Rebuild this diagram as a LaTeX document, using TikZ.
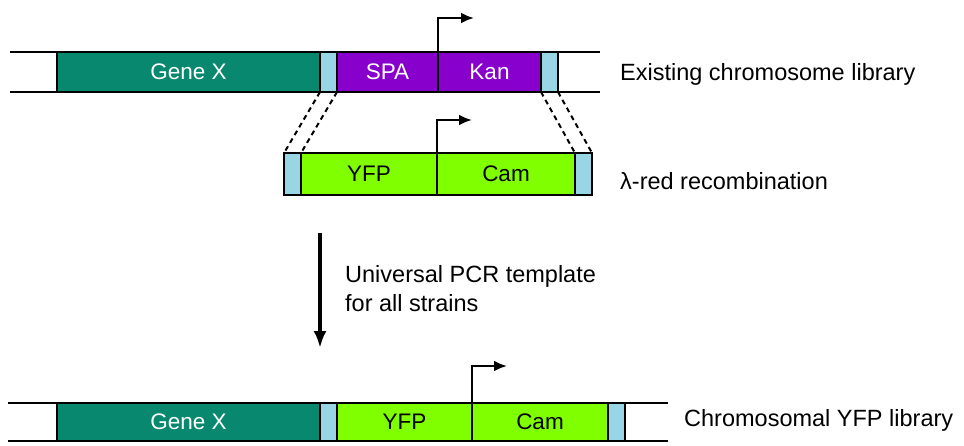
\documentclass[tikz,border=0pt]{standalone}
\usepackage{fontspec}
\setmainfont{Liberation Sans}
\usetikzlibrary{shapes,arrows,arrows.meta}
\usetikzlibrary{positioning}
\usetikzlibrary{calc}

\definecolor{genecol}{RGB}{8,136,110}
\definecolor{spacol}{RGB}{136,0,204}
\definecolor{yfpcol}{RGB}{128,255,0}
\definecolor{flankcol}{RGB}{152,214,230}

\begin{document}
\begin{tikzpicture}[x=1pt,y=-1pt]
 \tikzstyle{seg} = [draw, line width=2.6pt, inner sep=0pt, outer sep=0pt, font=\fontsize{22.5}{27}\selectfont];
 \tikzstyle{flank} = [seg, fill=flankcol, minimum width=17pt];
 \tikzstyle{lbl} = [anchor=west, inner sep=0pt, font=\fontsize{23.5}{29}\selectfont];
 \tikzstyle{dna} = [line width=2.6pt];
 \tikzstyle{prom} = [-{Latex[length=13pt,width=11pt]}, line width=2.6pt];
 \tikzstyle{link} = [dash pattern=on 5pt off 4pt, line width=2pt];

 \useasboundingbox (0,0) rectangle (964,445);

 % existing chromosome
 \draw [dna] (10,52) -- (600,52) (10,92) -- (600,92);
 \node (gene1) [seg, fill=genecol, text=white, minimum width=263pt, minimum height=40pt] at (188.5,72) {Gene X};
 \node (fl1a) [flank, minimum height=40pt] at (328.5,72) {};
 \node (spa) [seg, fill=spacol, text=white, minimum width=101pt, minimum height=40pt] at (387.5,72) {SPA};
 \node (kan) [seg, fill=spacol, text=white, minimum width=103pt, minimum height=40pt] at (489.5,72) {Kan};
 \node (fl1b) [flank, minimum height=40pt] at (549.5,72) {};
 \coordinate (p1) at (474,18);
 \draw [prom] (kan.north west) |- (p1);
 \node (lib1) [lbl] at (620,74) {Existing chromosome library};

 % recombination cassette
 \node (fl2a) [flank, minimum height=42pt] at (292.5,174) {};
 \node (yfp2) [seg, fill=yfpcol, minimum width=136pt, minimum height=42pt] at (369,174) {YFP};
 \node (cam2) [seg, fill=yfpcol, minimum width=138pt, minimum height=42pt] at (506,174) {Cam};
 \node (fl2b) [flank, minimum height=42pt] at (583.5,174) {};
 \coordinate (p2) at (472,120);
 \draw [prom] (cam2.north west) |- (p2);
 \node (lam) [lbl] at (620,181) {λ-red recombination};

 \draw [link] (fl1a.south west) -- (fl2a.north west);
 \draw [link] (fl1a.south east) -- (fl2a.north east);
 \draw [link] (fl1b.south west) -- (fl2b.north west);
 \draw [link] (fl1b.south east) -- (fl2b.north east);

 % PCR step
 \coordinate (a0) at (320,233);
 \coordinate (a1) at (320,348);
 \draw [-{Latex[length=17pt,width=13pt]}, line width=3.4pt] (a0) -- (a1);
 \node (pcr) [lbl, align=left] at (345,289) {Universal PCR template\\for all strains};

 % resulting chromosome
 \draw [dna] (8,403) -- (668,403) (8,441) -- (668,441);
 \node (gene3) [seg, fill=genecol, text=white, minimum width=263pt, minimum height=38pt] at (188.5,422) {Gene X};
 \node (fl3a) [flank, minimum height=38pt] at (328.5,422) {};
 \node (yfp3) [seg, fill=yfpcol, minimum width=135pt, minimum height=38pt] at (404.5,422) {YFP};
 \node (cam3) [seg, fill=yfpcol, minimum width=136pt, minimum height=38pt] at (540,422) {Cam};
 \node (fl3b) [flank, minimum height=38pt] at (616.5,422) {};
 \coordinate (p3) at (507,366);
 \draw [prom] (cam3.north west) |- (p3);
 \node (lib3) [lbl] at (684,420) {Chromosomal YFP library};
\end{tikzpicture}
\end{document}
